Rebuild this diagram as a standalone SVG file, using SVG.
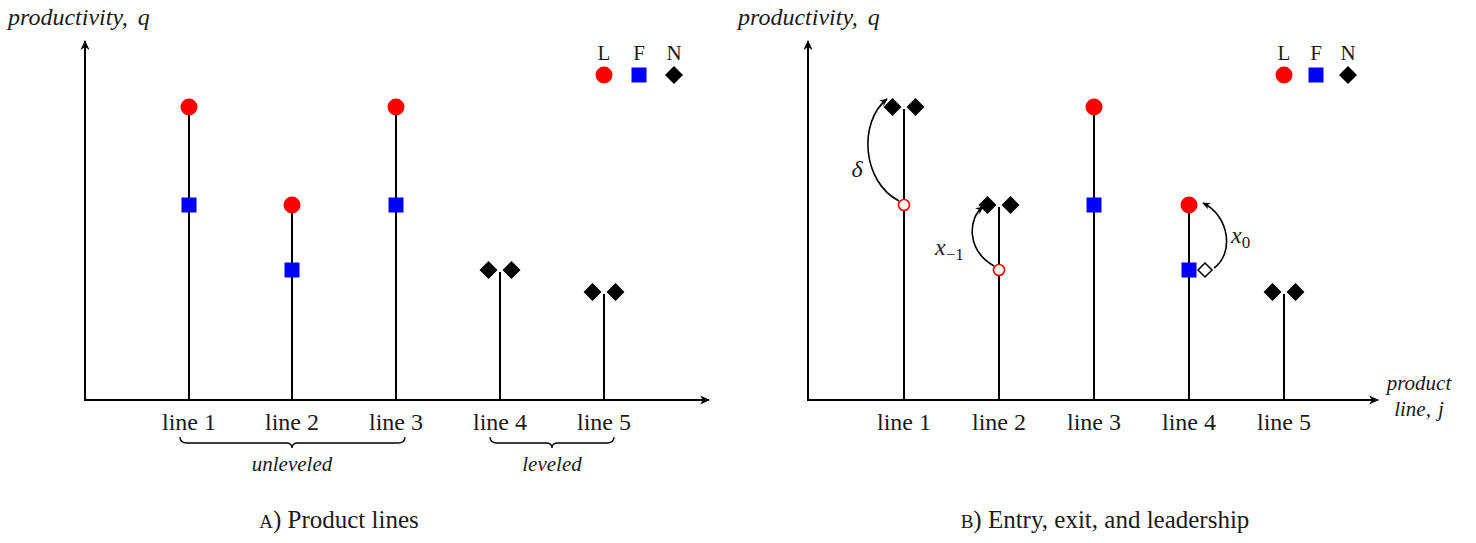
<svg xmlns="http://www.w3.org/2000/svg" width="1476" height="543" viewBox="0 0 1476 543">
<style>
.ax{stroke:#000;stroke-width:2;fill:none}
.st{stroke:#000;stroke-width:2}
.L{fill:#ff0000}
.F{fill:#0000ff}
.N{fill:#000}
.t{font-family:"Liberation Serif","DejaVu Serif",serif;font-size:24px;fill:#1a1a1a}
.lb{font-family:"Liberation Serif","DejaVu Serif",serif;font-size:24px;fill:#1a1a1a}
.sm{font-family:"Liberation Serif","DejaVu Serif",serif;font-size:21px;fill:#1a1a1a}
.it{font-style:italic}
.cap{font-family:"Liberation Serif","DejaVu Serif",serif;font-size:25px;fill:#1a1a1a}
.br{stroke:#000;stroke-width:1.3;fill:none}
.cv{stroke:#000;stroke-width:1.6;fill:none}
</style>
<defs>
<marker id="ah" viewBox="0 0 10 10" refX="9" refY="5" markerWidth="10" markerHeight="10" markerUnits="userSpaceOnUse" orient="auto">
<path d="M0,0.5 L10,5 L0,9.5 L3,5 Z" fill="#000"/>
</marker>
<marker id="ahs" viewBox="0 0 10 10" refX="9" refY="5" markerWidth="8" markerHeight="8" markerUnits="userSpaceOnUse" orient="auto">
<path d="M0,0.5 L10,5 L0,9.5 L3,5 Z" fill="#000"/>
</marker>
<path id="dm" d="M0,-9 L9,0 L0,9 L-9,0 Z"/>
</defs>

<!-- Panel A axes -->
<g id="axesA">
<line class="ax" x1="85" y1="401" x2="85" y2="41" marker-end="url(#ah)"/>
<line class="ax" x1="84" y1="400" x2="709" y2="400" marker-end="url(#ah)"/>
<text class="t it" x="8" y="25">productivity,<tspan dx="10">q</tspan></text>
</g>

<g id="connectorsA">
<line class="st" x1="189" y1="400" x2="189" y2="107"/>
<line class="st" x1="292" y1="400" x2="292" y2="205"/>
<line class="st" x1="396" y1="400" x2="396" y2="107"/>
<line class="st" x1="500" y1="400" x2="500" y2="272"/>
<line class="st" x1="604" y1="400" x2="604" y2="294"/>
</g>

<g id="A-line1">
<circle class="L" cx="189" cy="107" r="8.5"/>
<rect class="F" x="181.5" y="197.5" width="15" height="15"/>
<text class="lb" x="189" y="430" text-anchor="middle">line 1</text>
</g>
<g id="A-line2">
<circle class="L" cx="292" cy="205" r="8.5"/>
<rect class="F" x="284.5" y="262.5" width="15" height="15"/>
<text class="lb" x="292" y="430" text-anchor="middle">line 2</text>
</g>
<g id="A-line3">
<circle class="L" cx="396" cy="107" r="8.5"/>
<rect class="F" x="388.5" y="197.5" width="15" height="15"/>
<text class="lb" x="396" y="430" text-anchor="middle">line 3</text>
</g>
<g id="A-line4">
<use href="#dm" class="N" x="488.5" y="270"/>
<use href="#dm" class="N" x="511.5" y="270"/>
<text class="lb" x="500" y="430" text-anchor="middle">line 4</text>
</g>
<g id="A-line5">
<use href="#dm" class="N" x="592.5" y="292"/>
<use href="#dm" class="N" x="615.5" y="292"/>
<text class="lb" x="604" y="430" text-anchor="middle">line 5</text>
</g>

<g id="A-braces">
<path class="br" d="M180,437 Q180,443 187,443 L286,443 Q292,443 292,448 Q292,443 298,443 L398,443 Q405,443 405,437"/>
<text class="sm it" x="292" y="471" text-anchor="middle">unleveled</text>
<path class="br" d="M490,437 Q490,443 497,443 L546,443 Q552,443 552,448 Q552,443 558,443 L607,443 Q614,443 614,437"/>
<text class="sm it" x="552" y="471" text-anchor="middle">leveled</text>
</g>

<g id="A-legend">
<text class="sm" x="604" y="60" text-anchor="middle">L</text>
<text class="sm" x="639" y="60" text-anchor="middle">F</text>
<text class="sm" x="674" y="60" text-anchor="middle">N</text>
<circle class="L" cx="604" cy="75" r="8.5"/>
<rect class="F" x="631.5" y="67.5" width="15" height="15"/>
<use href="#dm" class="N" x="674" y="75"/>
</g>

<text class="cap" x="339" y="528" text-anchor="middle"><tspan font-size="19">A</tspan>) Product lines</text>

<!-- Panel B -->
<g id="axesB">
<line class="ax" x1="808" y1="401" x2="808" y2="41" marker-end="url(#ah)"/>
<line class="ax" x1="807" y1="400" x2="1378" y2="400" marker-end="url(#ah)"/>
<text class="t it" x="738" y="25">productivity,<tspan dx="10">q</tspan></text>
<text class="sm it" x="1419" y="390" text-anchor="middle">product</text>
<text class="sm it" x="1419" y="416" text-anchor="middle">line,<tspan dx="7">j</tspan></text>
</g>

<g id="connectorsB">
<line class="st" x1="904" y1="400" x2="904" y2="109"/>
<line class="st" x1="999" y1="400" x2="999" y2="207"/>
<line class="st" x1="1094" y1="400" x2="1094" y2="107"/>
<line class="st" x1="1189" y1="400" x2="1189" y2="205"/>
<line class="st" x1="1284" y1="400" x2="1284" y2="294"/>
<path class="cv" d="M899,201 C862,182 858,122 887,99" marker-end="url(#ahs)"/>
<path class="cv" d="M994,266 C966,250 968,218 983,207" marker-end="url(#ahs)"/>
<path class="cv" d="M1214,268 C1234,254 1230,216 1203,203" marker-end="url(#ahs)"/>
</g>

<g id="B-line1">
<use href="#dm" class="N" x="892.5" y="107"/>
<use href="#dm" class="N" x="915.5" y="107"/>
<circle cx="904" cy="205" r="5.5" fill="#fff" stroke="#ff0000" stroke-width="1.6"/>
<text class="t it" x="857" y="177" text-anchor="middle">δ</text>
<text class="lb" x="904" y="430" text-anchor="middle">line 1</text>
</g>
<g id="B-line2">
<use href="#dm" class="N" x="987.5" y="205"/>
<use href="#dm" class="N" x="1010.5" y="205"/>
<circle cx="999" cy="270" r="5.5" fill="#fff" stroke="#ff0000" stroke-width="1.6"/>
<text class="t it" x="935" y="255">x<tspan font-size="17" font-style="normal" dy="5">−1</tspan></text>
<text class="lb" x="999" y="430" text-anchor="middle">line 2</text>
</g>
<g id="B-line3">
<circle class="L" cx="1094" cy="107" r="8.5"/>
<rect class="F" x="1086.5" y="197.5" width="15" height="15"/>
<text class="lb" x="1094" y="430" text-anchor="middle">line 3</text>
</g>
<g id="B-line4">
<circle class="L" cx="1189" cy="205" r="8.5"/>
<rect class="F" x="1181.5" y="262.5" width="15" height="15"/>
<path d="M1205,263 L1212,270 L1205,277 L1198,270 Z" fill="#fff" stroke="#000" stroke-width="1.5"/>
<text class="t it" x="1231" y="243">x<tspan font-size="17" font-style="normal" dy="5">0</tspan></text>
<text class="lb" x="1189" y="430" text-anchor="middle">line 4</text>
</g>
<g id="B-line5">
<use href="#dm" class="N" x="1272.5" y="292"/>
<use href="#dm" class="N" x="1295.5" y="292"/>
<text class="lb" x="1284" y="430" text-anchor="middle">line 5</text>
</g>

<g id="B-legend">
<text class="sm" x="1284" y="60" text-anchor="middle">L</text>
<text class="sm" x="1316" y="60" text-anchor="middle">F</text>
<text class="sm" x="1348" y="60" text-anchor="middle">N</text>
<circle class="L" cx="1284" cy="75" r="8.5"/>
<rect class="F" x="1308.5" y="67.5" width="15" height="15"/>
<use href="#dm" class="N" x="1348" y="75"/>
</g>

<text class="cap" x="1105" y="528" text-anchor="middle"><tspan font-size="19">B</tspan>) Entry, exit, and leadership</text>
</svg>
